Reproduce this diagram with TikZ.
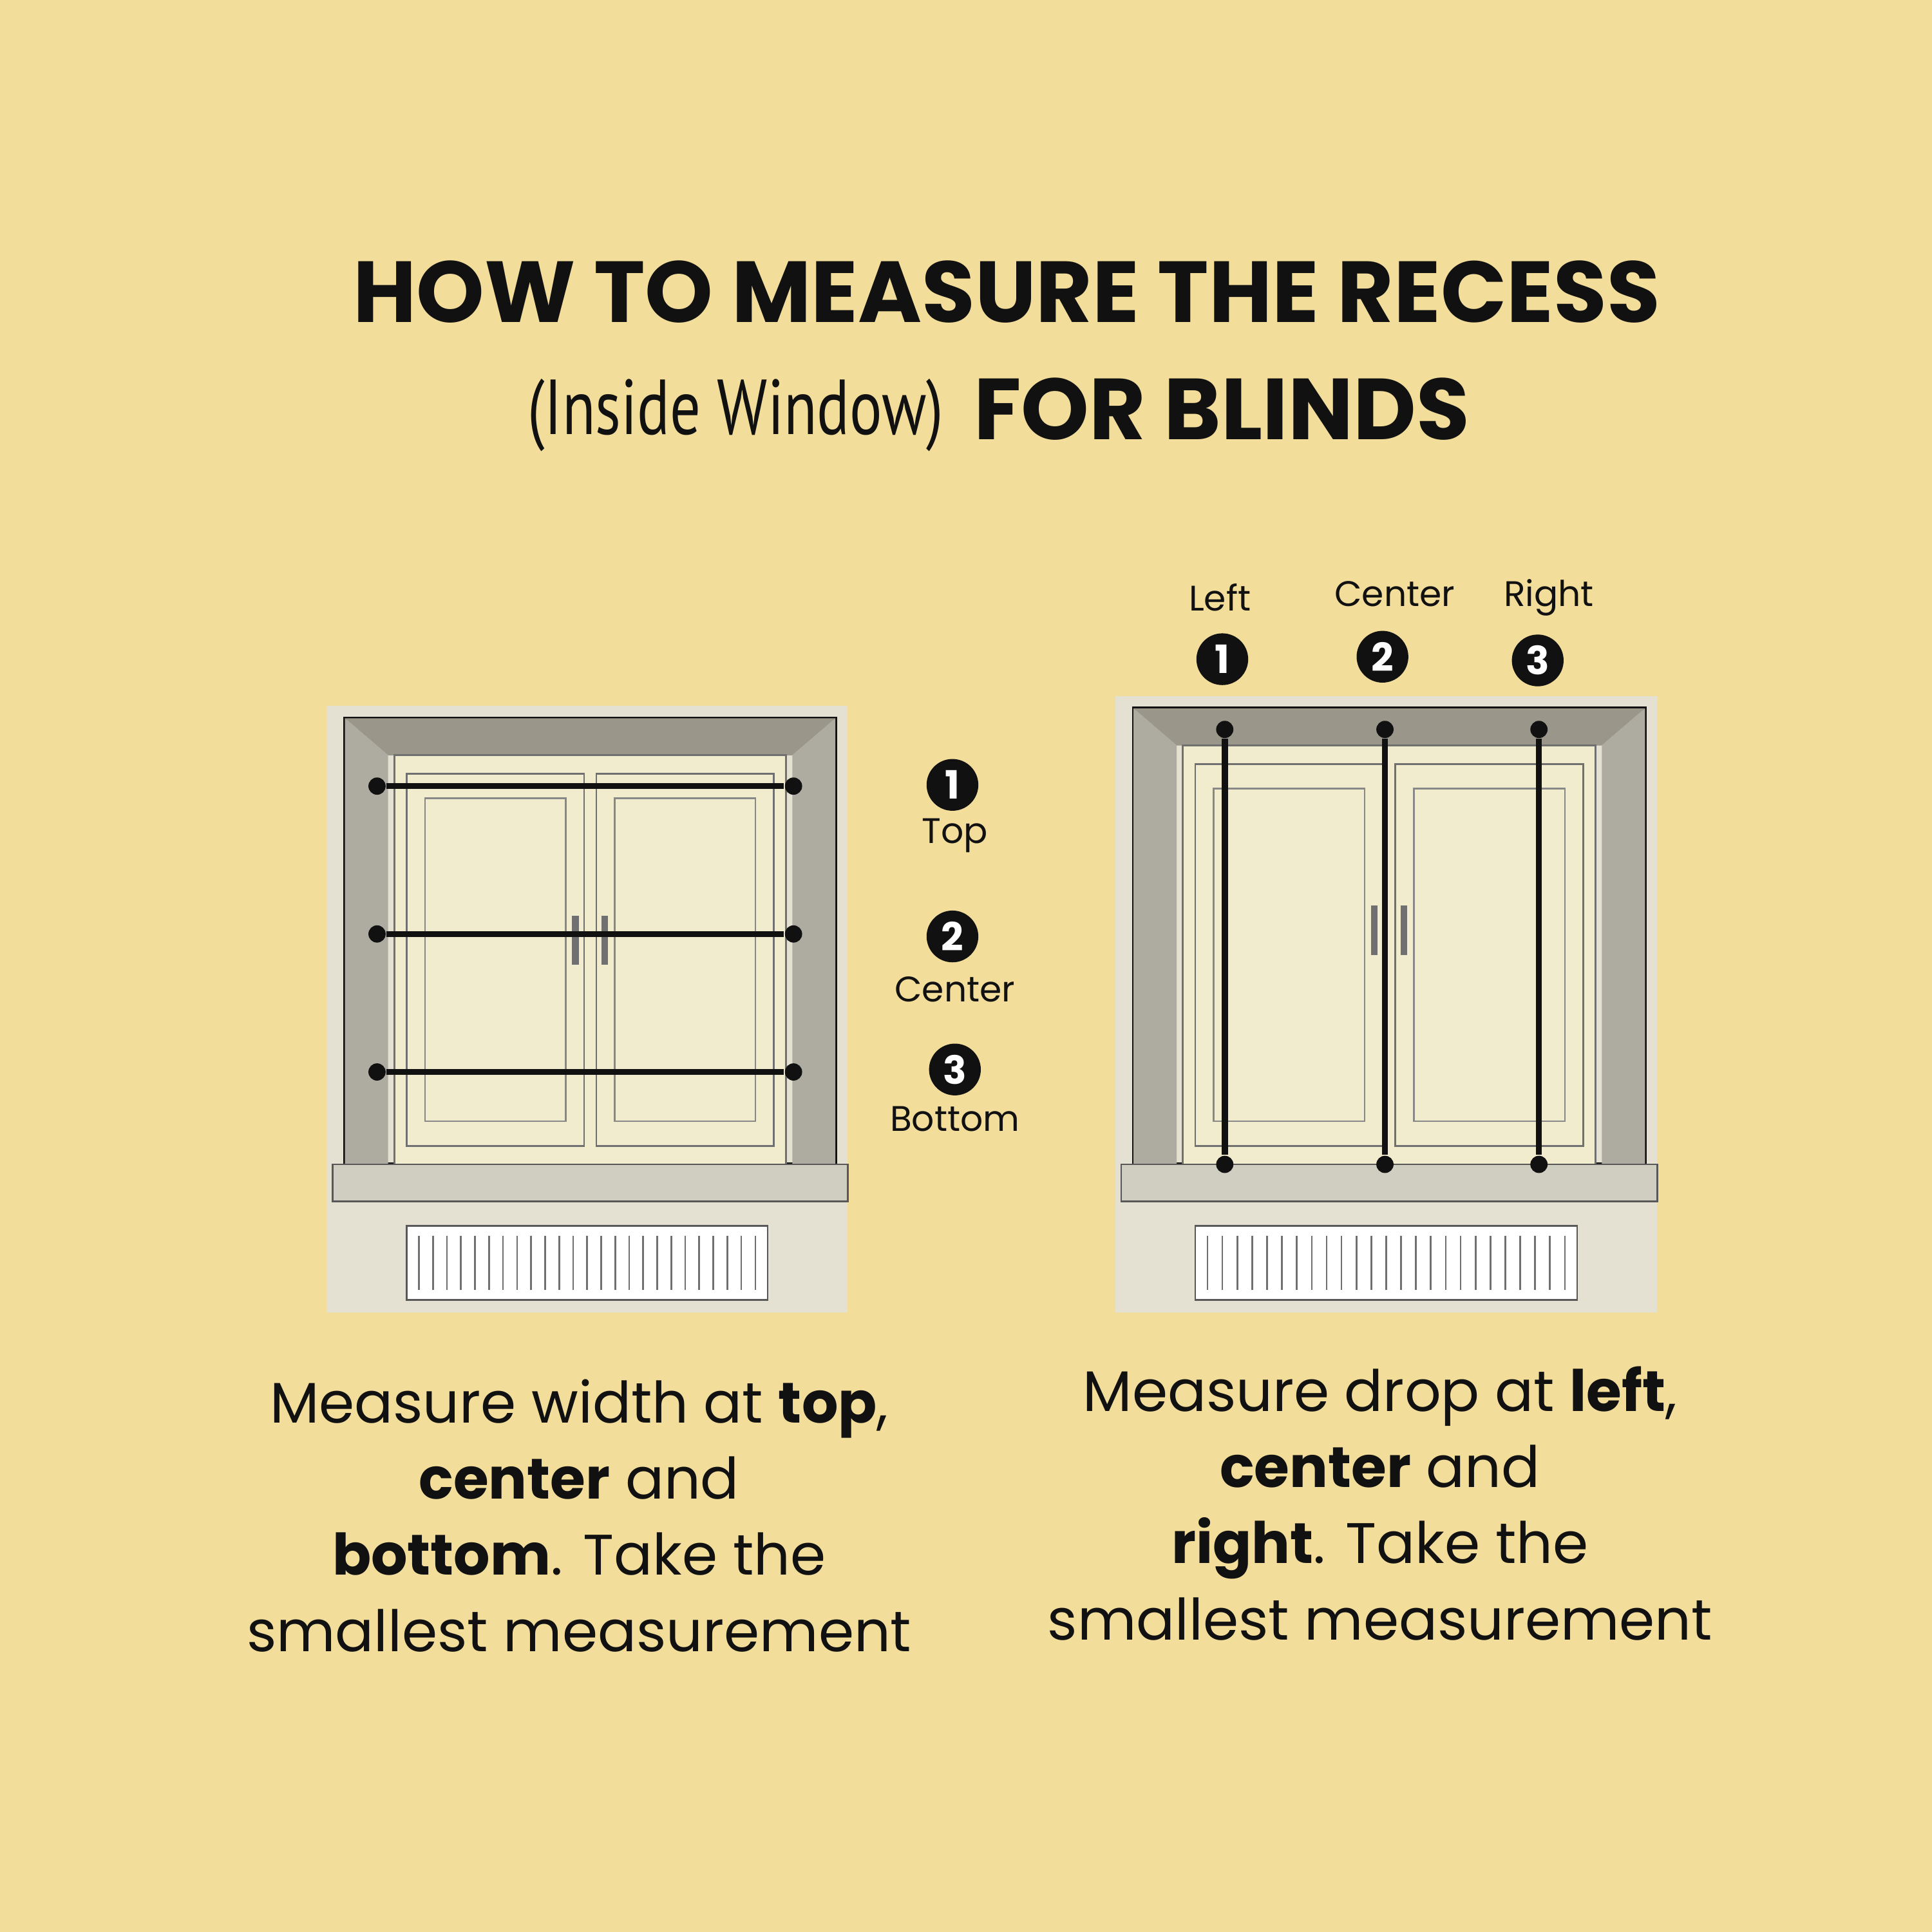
\documentclass[tikz,border=0pt]{standalone}
\usepackage{fontspec}
\setmainfont{Poppins}
\newfontfamily\condfont[FakeStretch=0.78]{PT Sans}
\definecolor{bgyellow}{HTML}{F3DD9A}
\definecolor{revealgray}{HTML}{9A968A}
\definecolor{walllight}{HTML}{E4E0D2}
\definecolor{paneCream}{HTML}{F2ECCF}
\definecolor{ink}{HTML}{111111}
\tikzset{
  numdot/.style={circle, fill=ink, text=white, inner sep=0pt, minimum size=0.42cm, font=\bfseries\fontsize{9}{9}\selectfont},
  sidelabel/.style={font=\fontsize{8.2}{8.2}\selectfont, text=ink},
  caption/.style={font=\fontsize{13.2}{17.6}\selectfont, text=ink, align=center},
  measure/.style={line width=1.4pt, ink},
  enddot/.style={circle, fill=ink, inner sep=0pt, minimum size=0.14cm}
}
% one window drawing: #1 left, #2 right, #3 top, #4 sill (y downwards)
\newcommand{\recesswindow}[4]{%
  \fill[walllight] (#1-0.15,#3-0.1) rectangle (#2+0.1,#4+1.2);
  \draw[ink, line width=0.8pt] (#1,#3) rectangle (#2,#4);
  \fill[revealgray] (#1,#3) -- (#2,#3) -- (#2-0.35,#3+0.3) -- (#1+0.35,#3+0.3) -- cycle;
  \fill[revealgray!80] (#1,#3) -- (#1+0.35,#3+0.3) -- (#1+0.35,#4) -- (#1,#4) -- cycle;
  \fill[revealgray!80] (#2,#3) -- (#2-0.35,#3+0.3) -- (#2-0.35,#4) -- (#2,#4) -- cycle;
  \filldraw[fill=paneCream, draw=ink!60] (#1+0.4,#3+0.3) rectangle (#2-0.4,#4);
  \draw[ink!60] (#1+0.5,#3+0.45) rectangle ({(#1+#2)/2-0.05},#4-0.15);
  \draw[ink!60] ({(#1+#2)/2+0.05},#3+0.45) rectangle (#2-0.5,#4-0.15);
  \draw[ink!50] (#1+0.65,#3+0.65) rectangle ({(#1+#2)/2-0.2},#4-0.35);
  \draw[ink!50] ({(#1+#2)/2+0.2},#3+0.65) rectangle (#2-0.65,#4-0.35);
  \draw[ink!60, line width=1.5pt] ({(#1+#2)/2-0.12},#3+1.6) -- ({(#1+#2)/2-0.12},#3+2.0);
  \draw[ink!60, line width=1.5pt] ({(#1+#2)/2+0.12},#3+1.6) -- ({(#1+#2)/2+0.12},#3+2.0);
  % sill
  \filldraw[fill=walllight!80!gray, draw=ink!70] (#1-0.1,#4) rectangle (#2+0.1,#4+0.3);
  % radiator
  \filldraw[fill=white, draw=ink!70] (#1+0.5,#4+0.5) rectangle (#2-0.55,#4+1.1);
  \foreach \k in {0,...,24} {
    \draw[ink!60] ({#1+0.6+\k*(#2-#1-1.25)/24},#4+0.58) -- ({#1+0.6+\k*(#2-#1-1.25)/24},#4+1.02);
  }
}
\begin{document}
\begin{tikzpicture}[x=1cm, y=-1cm]
\useasboundingbox[fill=bgyellow] (0,0) rectangle (15.68,15.68);

% title
\node[font=\bfseries\fontsize{20}{20}\selectfont, text=ink] (title) at (8.17,2.37) {HOW TO MEASURE THE RECESS};
\node[font=\condfont\fontsize{18}{18}\selectfont, text=ink] (inside) at (5.97,3.37) {(Inside Window)};
\node[font=\bfseries\fontsize{20}{20}\selectfont, text=ink, anchor=west] (blinds) at (7.78,3.32) {FOR BLINDS};

% left window: width
\recesswindow{2.8}{6.78}{5.83}{9.45}
\foreach \n/\y in {wtop/6.38, wcen/7.58, wbot/8.7} {
  \node[enddot] (\n a) at (3.06,\y) {};
  \node[enddot] (\n b) at (6.44,\y) {};
  \draw[measure] (\n a) -- (\n b);
}
\node[numdot] (n1) at (7.73,6.37) {1};
\node[sidelabel] (ltop) at (7.75,6.78) {Top};
\node[numdot] (n2) at (7.73,7.6) {2};
\node[sidelabel] (lcen) at (7.75,8.03) {Center};
\node[numdot] (n3) at (7.75,8.68) {3};
\node[sidelabel] (lbot) at (7.75,9.08) {Bottom};

% right window: drop
\recesswindow{9.2}{13.35}{5.75}{9.45}
\foreach \n/\x in {dleft/9.94, dcen/11.24, dright/12.49} {
  \node[enddot] (\n a) at (\x,5.92) {};
  \node[enddot] (\n b) at (\x,9.45) {};
  \draw[measure] (\n a) -- (\n b);
}
\node[sidelabel] (rleft) at (9.9,4.85) {Left};
\node[sidelabel] (rcen) at (11.32,4.82) {Center};
\node[sidelabel] (rright) at (12.57,4.85) {Right};
\node[numdot] (m1) at (9.92,5.35) {1};
\node[numdot] (m2) at (11.22,5.33) {2};
\node[numdot] (m3) at (12.48,5.36) {3};

% captions
\node[caption] (capl) at (4.7,12.3) {Measure width at \textbf{top},\\ \textbf{center} and\\ \textbf{bottom}. Take the\\ smallest measurement};
\node[caption] (capr) at (11.2,12.2) {Measure drop at \textbf{left},\\ \textbf{center} and\\ \textbf{right}. Take the\\ smallest measurement};
\end{tikzpicture}
\end{document}
